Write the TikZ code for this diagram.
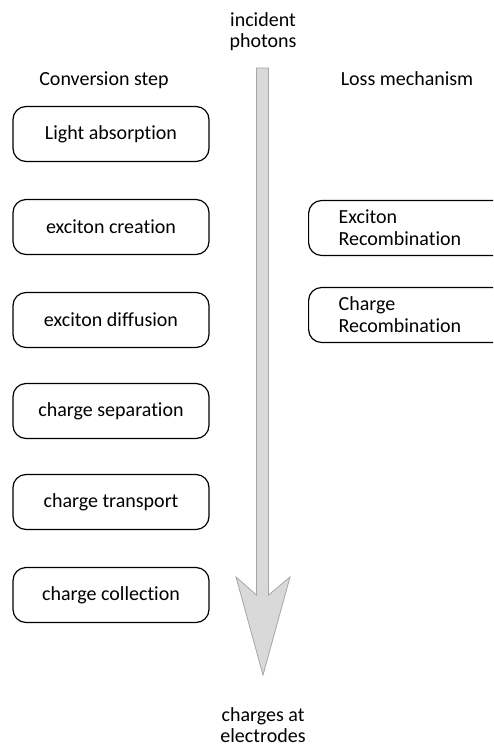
\documentclass[tikz,border=0pt]{standalone}
\usepackage{fontspec}
\setmainfont{Carlito}[Ligatures=NoCommon]
\usetikzlibrary{positioning}

\tikzset{
  stepbox/.style={draw, line width=1.2pt, rounded corners=13pt,
    minimum width=196pt, minimum height=55pt, font=\fontsize{20}{22}\selectfont},
  lossbox/.style={draw, line width=1.2pt, rounded corners=13pt,
    minimum height=55pt, align=left, text width=170pt,
    inner xsep=30pt, font=\fontsize{20}{22}\selectfont},
  label/.style={align=center, font=\fontsize{20}{21}\selectfont}
}

\begin{document}
\begin{tikzpicture}[x=1pt,y=-1pt]
\useasboundingbox (0,0) rectangle (493,746);
\clip (0,0) rectangle (493,746);

% headings
\node[label] (photons) at (263,32)  {incident\\photons};
\node[label, anchor=base] (conv) at (104,86) {Conversion step};
\node[label, anchor=base] (loss) at (407,86) {Loss mechanism};
\node[label] (charges) at (263,725) {charges at\\electrodes};

% the big arrow
\draw[gray!70, line width=0.8pt, fill=gray!30]
  (256.5,68) -- (268.5,68) -- (268.5,595) -- (290,577) -- (263,675)
  -- (236,577) -- (256.5,595) -- cycle;

% conversion steps
\node[stepbox] (absorb)   at (111,134) {Light absorption};
\node[stepbox] (creation) at (111,227) {exciton creation};
\node[stepbox] (diffuse)  at (111,320) {exciton diffusion};
\node[stepbox] (separate) at (111,411) {charge separation};
\node[stepbox] (transp)   at (111,502) {charge transport};
\node[stepbox] (collect)  at (111,595) {charge collection};

% loss mechanisms (boxes run off the right edge)
\node[lossbox, anchor=west] (exrec) at (308,228) {Exciton\\Recombination};
\node[lossbox, anchor=west] (chrec) at (308,315) {Charge\\Recombination};

\end{tikzpicture}
\end{document}
